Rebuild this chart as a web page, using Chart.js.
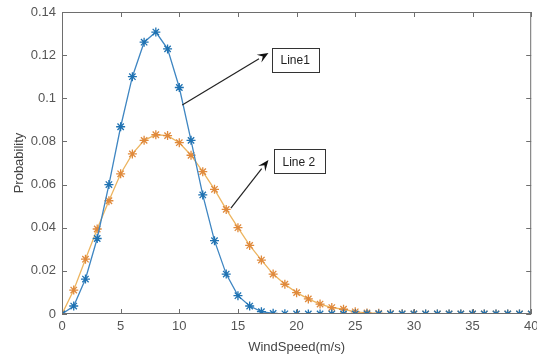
<!DOCTYPE html>
<html>
<head>
<meta charset="utf-8">
<script src="https://cdn.jsdelivr.net/npm/chart.js@4/dist/chart.umd.min.js"></script>
<style>
  html, body { margin: 0; padding: 0; background: #fff; }
  #wrap { width: 537px; height: 360px; }
</style>
</head>
<body>
<div id="wrap"><canvas id="wind-chart"></canvas></div>
<script>
// ------------------ DATA -------------------//
const windSpeed = [0, 1, 2, 3, 4, 5, 6, 7, 8, 9, 10, 11, 12, 13, 14, 15, 16, 17, 18, 19, 20,
  21, 22, 23, 24, 25, 26, 27, 28, 29, 30, 31, 32, 33, 34, 35, 36, 37, 38, 39, 40];

const line1Values = [0, 0.0037, 0.0162, 0.035, 0.060, 0.0868, 0.110, 0.126, 0.1307, 0.1229, 0.105,
  0.0805, 0.0552, 0.034, 0.0185, 0.0085, 0.0037, 0.0011, 0.0003, 0.0001, 0,
  0, 0, 0, 0, 0, 0, 0, 0, 0, 0, 0, 0, 0, 0, 0, 0, 0, 0, 0, 0];

const line2Values = [0, 0.0111, 0.0254, 0.0394, 0.0525, 0.0650, 0.0742, 0.0805, 0.0831, 0.0827, 0.0794,
  0.0736, 0.066, 0.0578, 0.0485, 0.040, 0.0318, 0.025, 0.0185, 0.0138, 0.0099,
  0.007, 0.0046, 0.003, 0.0022, 0.001, 0.0005, 0.0003, 0.0002, 0.0001, 0,
  0, 0, 0, 0, 0, 0, 0, 0, 0, 0];

const xTicks = [0, 5, 10, 15, 20, 25, 30, 35, 40];
const yTicks = [0, 0.02, 0.04, 0.06, 0.08, 0.1, 0.12, 0.14];

// callouts: arrow from (x0,y0) to (x1,y1), label box left edge at x1 side
const calloutText = ["Line1", "Line 2"];
const calloutFrom = [[10.25, 0.0969], [14.4, 0.0491]];
const calloutTo = [[17.6, 0.121], [17.6, 0.0714]];
const calloutBoxAt = [[17.9, 0.1178], [18.05, 0.0707]];

// ------------------ HELPERS -------------------//
const toPoints = vals => windSpeed.map((x, i) => ({ x: x, y: vals[i] }));
const fontFamily = "'Liberation Sans', Arial, sans-serif";

// MATLAB style box with inward ticks
const boxPlugin = {
  id: 'boxTicks',
  afterDatasetsDraw(chart) {
    const { ctx, chartArea: a, scales } = chart;
    ctx.save();
    ctx.strokeStyle = '#6e6e6e';
    ctx.lineWidth = 1;
    ctx.strokeRect(a.left + 0.5, a.top + 0.5, a.right - a.left - 1, a.bottom - a.top - 1);
    ctx.beginPath();
    xTicks.forEach(t => {
      const px = Math.round(scales.x.getPixelForValue(t)) + 0.5;
      ctx.moveTo(px, a.bottom); ctx.lineTo(px, a.bottom - 5);
      ctx.moveTo(px, a.top); ctx.lineTo(px, a.top + 5);
    });
    yTicks.forEach(t => {
      const py = Math.round(scales.y.getPixelForValue(t)) + 0.5;
      ctx.moveTo(a.left, py); ctx.lineTo(a.left + 5, py);
      ctx.moveTo(a.right, py); ctx.lineTo(a.right - 5, py);
    });
    ctx.stroke();
    ctx.restore();
  }
};

// arrows + text boxes
const calloutPlugin = {
  id: 'callouts',
  afterDatasetsDraw(chart) {
    const { ctx, scales } = chart;
    const sx = v => scales.x.getPixelForValue(v);
    const sy = v => scales.y.getPixelForValue(v);
    ctx.save();
    calloutText.forEach((txt, i) => {
      const x0 = sx(calloutFrom[i][0]), y0 = sy(calloutFrom[i][1]);
      const x1 = sx(calloutTo[i][0]), y1 = sy(calloutTo[i][1]);
      ctx.strokeStyle = '#222';
      ctx.fillStyle = '#111';
      ctx.lineWidth = 1.2;
      const ang = Math.atan2(y1 - y0, x1 - x0);
      const hl = 11, hw = 4.5;
      const bx = x1 - hl * Math.cos(ang), by = y1 - hl * Math.sin(ang);
      ctx.beginPath();
      ctx.moveTo(x0, y0); ctx.lineTo(bx, by);
      ctx.stroke();
      ctx.beginPath();
      ctx.moveTo(x1, y1);
      ctx.lineTo(bx + hw * Math.sin(ang), by - hw * Math.cos(ang));
      ctx.lineTo(x1 - 0.6 * hl * Math.cos(ang), y1 - 0.6 * hl * Math.sin(ang));
      ctx.lineTo(bx - hw * Math.sin(ang), by + hw * Math.cos(ang));
      ctx.closePath();
      ctx.fill();

      // text box
      ctx.font = '12px ' + fontFamily;
      const tw = ctx.measureText(txt).width;
      const left = Math.round(sx(calloutBoxAt[i][0])) + 0.5;
      const cy = sy(calloutBoxAt[i][1]);
      const w = Math.round(tw + 18), h = 24;
      ctx.fillStyle = '#fff';
      ctx.fillRect(left, Math.round(cy - h / 2) + 0.5, w, h);
      ctx.strokeStyle = '#333';
      ctx.lineWidth = 1;
      ctx.strokeRect(left, Math.round(cy - h / 2) + 0.5, w, h);
      ctx.fillStyle = '#222';
      ctx.textBaseline = 'middle';
      ctx.fillText(txt, left + 8, cy + 1);
    });
    ctx.restore();
  }
};

// ------------------ CHART -------------------//
const windCanvas = document.getElementById('wind-chart');
let windChart = new Chart(windCanvas, {
  type: 'line',
  data: {
    datasets: [{
      label: 'Line1',
      data: toPoints(line1Values),
      borderColor: '#3f86c2',
      borderWidth: 1.3,
      pointStyle: 'star',
      pointRadius: 4.5,
      pointBorderColor: '#1f72b2',
      pointBorderWidth: 1.3,
      fill: false,
      tension: 0
    }, {
      label: 'Line 2',
      data: toPoints(line2Values),
      borderColor: '#edb560',
      borderWidth: 1.3,
      pointStyle: 'star',
      pointRadius: 4.5,
      pointBorderColor: '#e08a3c',
      pointBorderWidth: 1.3,
      fill: false,
      tension: 0
    }]
  },
  options: {
    responsive: true,
    maintainAspectRatio: false,
    animation: { duration: 0 },
    layout: { padding: { top: 12, right: -3, left: 0, bottom: 0 } },
    plugins: {
      legend: { display: false },
      tooltip: { enabled: false }
    },
    scales: {
      x: {
        type: 'linear',
        min: 0,
        max: 40,
        afterBuildTicks: s => { s.ticks = xTicks.map(v => ({ value: v })); },
        afterFit: s => { s.height = 46; s.paddingLeft = 0; s.paddingRight = 0; },
        grid: { display: false, drawTicks: false },
        border: { display: false },
        ticks: {
          color: '#555',
          font: { family: fontFamily, size: 13 },
          padding: 5,
          maxRotation: 0
        },
        title: {
          display: true,
          text: 'WindSpeed(m/s)',
          color: '#444',
          font: { family: fontFamily, size: 13 },
          padding: { top: 1, bottom: 5 }
        }
      },
      y: {
        min: 0,
        max: 0.14,
        afterBuildTicks: s => { s.ticks = yTicks.map(v => ({ value: v })); },
        afterFit: s => { s.width = 62; s.paddingTop = 0; s.paddingBottom = 0; },
        grid: { display: false, drawTicks: false },
        border: { display: false },
        ticks: {
          color: '#555',
          font: { family: fontFamily, size: 13 },
          padding: 6,
          callback: v => String(parseFloat(Number(v).toFixed(2)))
        },
        title: {
          display: true,
          text: 'Probability',
          color: '#444',
          font: { family: fontFamily, size: 13 },
          padding: { top: 12, bottom: 2 }
        }
      }
    }
  },
  plugins: [boxPlugin, calloutPlugin]
});
</script>
</body>
</html>
